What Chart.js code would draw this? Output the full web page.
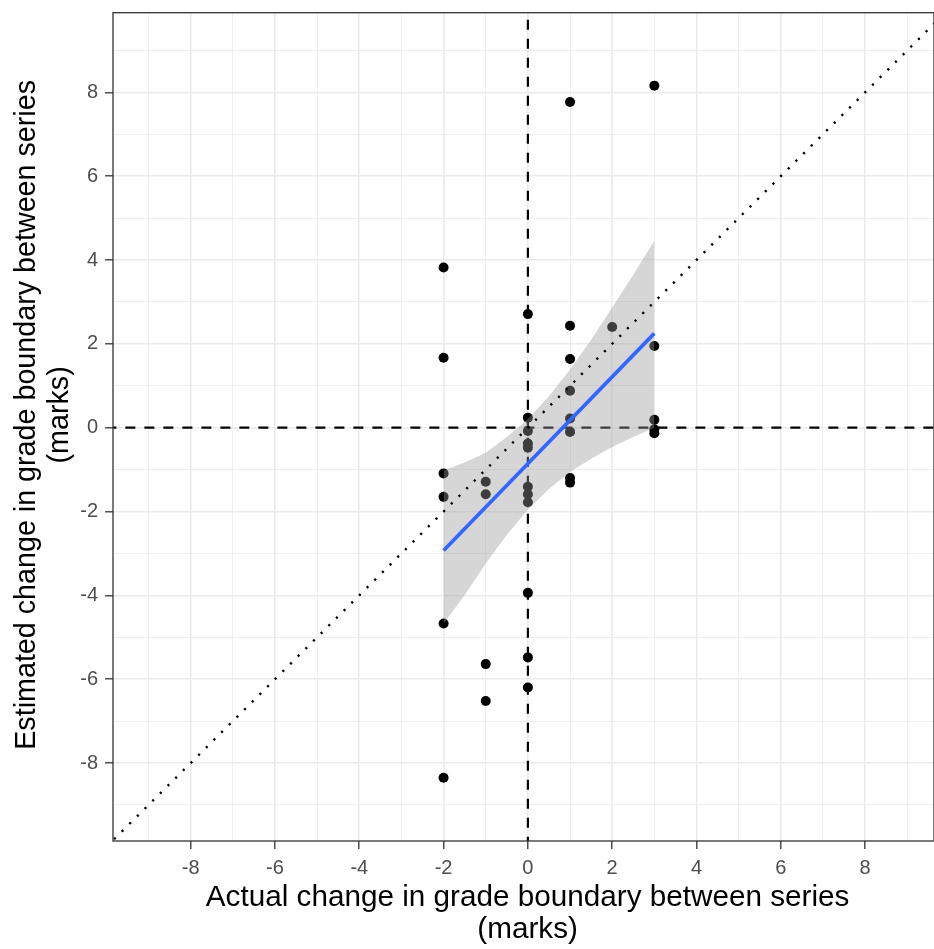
<!DOCTYPE html>
<html>
<head>
<meta charset="utf-8">
<script src="https://cdn.jsdelivr.net/npm/chart.js@4/dist/chart.umd.min.js"></script>
<style>
html,body{margin:0;padding:0;background:#ffffff;}
#wrap{width:934px;height:949px;}
</style>
</head>
<body>
<div id="wrap"><canvas id="c" width="934" height="949"></canvas></div>
<script>
// ---- data ----
const actualChange = [
  -2, -2, -2, -2, -2, -2,
  -1, -1, -1, -1,
  0, 0, 0, 0, 0, 0, 0, 0, 0, 0, 0,
  1, 1, 1, 1, 1, 1, 1, 1,
  2,
  3, 3, 3, 3, 3
];
const estimatedChange = [
  3.82, 1.67, -1.09, -1.65, -4.67, -8.35,
  -1.29, -1.59, -5.64, -6.52,
  2.71, 0.24, -0.08, -0.38, -0.48, -1.41, -1.59, -1.78, -3.94, -5.48, -6.20,
  7.77, 2.43, 1.64, 0.88, 0.22, -0.10, -1.20, -1.31,
  2.40,
  8.16, 1.95, 0.19, -0.04, -0.13
];
// fitted line (geom_smooth lm) end points
const fitX = [-2, 3];
const fitY = [-2.93, 2.25];
// confidence band
const bandX     = [-2, -1.5, -1, -0.5, 0, 0.5, 1, 1.5, 2, 2.5, 3];
const bandUpper = [-1.02, -0.83, -0.60, -0.22, 0.21, 0.75, 1.39, 2.10, 2.87, 3.65, 4.46];
const bandLower = [-4.68, -3.99, -3.24, -2.56, -1.95, -1.46, -1.06, -0.74, -0.46, -0.22, 0.00];
// reference lines
const identityX = [-10, 10];
const zeroLineSpan = [-10, 10];
// ticks
const tickValues = [-8, -6, -4, -2, 0, 2, 4, 6, 8];
const tickLabels = ['-8', '-6', '-4', '-2', '0', '2', '4', '6', '8'];
const minorValues = [-9, -7, -5, -3, -1, 1, 3, 5, 7, 9];
const xTitle = ['Actual change in grade boundary between series', '(marks)'];
const yTitle = ['Estimated change in grade boundary between series', '(marks)'];
const xRange = [-9.843, 9.635];
const yRange = [-9.86, 9.9];

// ---- build ----
const FONT = "'Liberation Sans', Arial, sans-serif";
const allTicks = tickValues.concat(minorValues).sort((a, b) => a - b);
const isMajor = v => tickValues.indexOf(v) !== -1;
const labelOf = v => { const i = tickValues.indexOf(v); return i === -1 ? '' : tickLabels[i]; };
// small leading space nudges the centred titles to where the reference places them
const xTitleText = xTitle.map(t => ' ' + t);
const yTitleText = yTitle.map(t => '   ' + t);

const points = actualChange.map((x, i) => ({x: x, y: estimatedChange[i]}));
const fitData = fitX.map((x, i) => ({x: x, y: fitY[i]}));
const upperData = bandX.map((x, i) => ({x: x, y: bandUpper[i]}));
const lowerData = bandX.map((x, i) => ({x: x, y: bandLower[i]}));
const identityData = identityX.map(v => ({x: v, y: v}));
const hData = zeroLineSpan.map(v => ({x: v, y: 0}));
const vData = zeroLineSpan.map(v => ({x: 0, y: v}));

const panelBorder = {
  id: 'panelBorder',
  beforeDraw(chart) {
    const ctx = chart.ctx;
    ctx.save();
    ctx.fillStyle = '#ffffff';
    ctx.fillRect(0, 0, chart.width, chart.height);
    ctx.restore();
  },
  afterDraw(chart) {
    const {ctx, chartArea: a} = chart;
    ctx.save();
    ctx.strokeStyle = '#333333';
    ctx.lineWidth = 1.3;
    ctx.strokeRect(a.left, a.top, a.right - a.left, a.bottom - a.top);
    ctx.restore();
  }
};

function scaleOpts(range, titleText, isX) {
  return {
    type: 'linear',
    bounds: 'data',
    min: range[0],
    max: range[1],
    afterBuildTicks: s => { s.ticks = allTicks.map(v => ({value: v})); },
    afterFit: s => {
      if (isX) { s.height = 108; } else { s.width = 113; }
      s.paddingTop = 0; s.paddingBottom = 0; s.paddingLeft = 0; s.paddingRight = 0;
    },
    border: {display: false},
    grid: {
      color: '#EBEBEB',
      lineWidth: c => (c.tick && isMajor(c.tick.value)) ? 1.6 : 0.8,
      drawTicks: true,
      tickLength: 8,
      tickWidth: 1.3,
      tickColor: c => (c.tick && isMajor(c.tick.value)) ? '#333333' : 'rgba(0,0,0,0)'
    },
    ticks: {
      autoSkip: false,
      maxRotation: 0,
      minRotation: 0,
      padding: 7,
      color: '#4D4D4D',
      font: {family: FONT, size: 20},
      callback: v => labelOf(v)
    },
    title: {
      display: true,
      text: titleText,
      color: '#000000',
      font: {family: FONT, size: isX ? 29.7 : 28.7, lineHeight: isX ? 1.1 : 1.13},
      padding: isX ? {top: 0, bottom: 2.5} : {top: 11, bottom: 0}
    }
  };
}

new Chart(document.getElementById('c'), {
  type: 'line',
  data: {
    datasets: [
      { // fitted line (top)
        data: fitData, borderColor: '#3366FF', borderWidth: 3.6,
        pointRadius: 0, fill: false, showLine: true, clip: 0
      },
      { // identity line, dotted
        data: identityData, borderColor: '#000000', borderWidth: 2.4,
        borderDash: [2.2, 8.6], borderCapStyle: 'butt',
        pointRadius: 0, fill: false, showLine: true, clip: 0
      },
      { // band upper
        data: upperData, borderColor: 'rgba(0,0,0,0)', borderWidth: 1,
        backgroundColor: 'rgba(153,153,153,0.4)',
        pointRadius: 0, fill: '+1', showLine: true, clip: 0
      },
      { // band lower
        data: lowerData, borderColor: 'rgba(0,0,0,0)', borderWidth: 1,
        pointRadius: 0, fill: false, showLine: true, clip: 0
      },
      { // observations
        data: points, showLine: false, pointRadius: 5, pointHoverRadius: 5,
        pointBackgroundColor: '#000000', pointBorderWidth: 0, pointBorderColor: 'rgba(0,0,0,0)',
        fill: false
      },
      { // y = 0
        data: hData, borderColor: '#000000', borderWidth: 2.2, borderDash: [10, 9],
        pointRadius: 0, fill: false, showLine: true, clip: 0
      },
      { // x = 0
        data: vData, borderColor: '#000000', borderWidth: 2.2, borderDash: [10, 9],
        pointRadius: 0, fill: false, showLine: true, clip: 0
      }
    ]
  },
  options: {
    responsive: false,
    animation: false,
    devicePixelRatio: 1,
    layout: {autoPadding: false, padding: {left: 0, right: 0, top: 12.7, bottom: 0}},
    plugins: {legend: {display: false}, tooltip: {enabled: false}},
    events: [],
    scales: {
      x: scaleOpts(xRange, xTitleText, true),
      y: scaleOpts(yRange, yTitleText, false)
    }
  },
  plugins: [panelBorder]
});
</script>
</body>
</html>
